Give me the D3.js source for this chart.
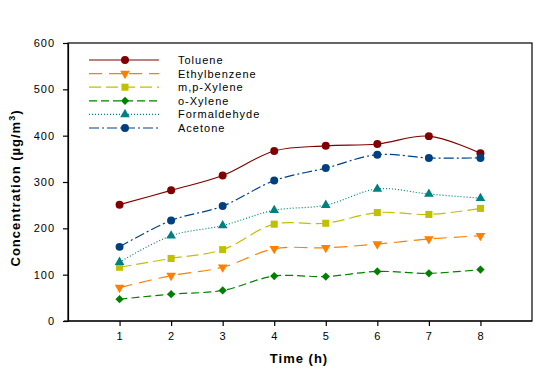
<!DOCTYPE html>
<html>
<head>
<meta charset="utf-8">
<script src="https://cdn.jsdelivr.net/npm/d3@7"></script>
<style>
  body { margin: 0; background: #fff; }
  svg text { font-family: "Liberation Sans", Arial, sans-serif; }
</style>
</head>
<body>
<svg id="chart" width="559" height="374"></svg>
<script>
// --- data ---
const hours = [1, 2, 3, 4, 5, 6, 7, 8];
const seriesNames = ["Toluene", "Ethylbenzene", "m,p-Xylene", "o-Xylene", "Formaldehyde", "Acetone"];
const toluene      = [251, 282, 314, 367, 378, 382, 399, 362];
const ethylbenzene = [72, 98, 116, 156, 158, 166, 177, 184];
const mpXylene     = [116, 135, 154, 209, 211, 234, 230, 243];
const oXylene      = [47, 58, 66, 97, 96, 107, 103, 111];
const formaldehyde = [127, 184, 206, 239, 250, 285, 274, 265];
const acetone      = [160, 217, 248, 303, 330, 359, 352, 352];
const yTicks = [0, 100, 200, 300, 400, 500, 600];

const values = [toluene, ethylbenzene, mpXylene, oXylene, formaldehyde, acetone];
const styles = [
    { color: "#800000", dash: null,        symbol: d3.symbolCircle,   size: 50, rot: 0 },
    { color: "#ff8000", dash: "13,7",      symbol: d3.symbolTriangle, size: 40, rot: 180 },
    { color: "#c0c000", dash: "12,5",      symbol: d3.symbolSquare,   size: 50, rot: 0 },
    { color: "#008000", dash: "8,4",       symbol: d3.symbolSquare,   size: 34, rot: 45 },
    { color: "#008080", dash: "1,2",       symbol: d3.symbolTriangle, size: 40, rot: 0 },
    { color: "#004080", dash: "10,3,2,3",  symbol: d3.symbolCircle,   size: 50, rot: 0 }
];

const svg = d3.select("#chart");
const plotL = 68, plotR = 532, plotT = 43, plotB = 321;

const x = d3.scaleLinear().domain([0, 9]).range([plotL, plotR]);
const y = d3.scaleLinear().domain([0, 600]).range([plotB, plotT]);

// frame
svg.append("rect")
    .attr("x", plotL).attr("y", plotT)
    .attr("width", plotR - plotL).attr("height", plotB - plotT)
    .attr("fill", "none").attr("stroke", "#000").attr("stroke-width", 1.2);

// axes
const xAxis = svg.append("g")
    .attr("transform", `translate(0,${plotB})`)
    .call(d3.axisBottom(x).tickValues(hours).tickSize(5).tickPadding(6).tickSizeOuter(0));
xAxis.select(".domain").attr("d", `M${plotL - 4},0H${plotR}`);

const yAxis = svg.append("g")
    .attr("transform", `translate(${plotL},0)`)
    .call(d3.axisLeft(y).tickValues(yTicks).tickSize(5).tickPadding(8).tickSizeOuter(0));

svg.selectAll(".tick text")
    .attr("font-size", 11)
    .attr("letter-spacing", 1)
    .attr("fill", "#000");
svg.selectAll(".domain, .tick line").attr("stroke", "#000").attr("stroke-width", 1.2);

// axis titles
svg.append("text")
    .attr("x", 299).attr("y", 363)
    .attr("text-anchor", "middle")
    .attr("font-size", 13).attr("font-weight", "bold").attr("letter-spacing", 1)
    .text("Time (h)");

const yTitle = svg.append("text")
    .attr("transform", "translate(20,188) rotate(-90)")
    .attr("text-anchor", "middle")
    .attr("font-size", 13).attr("font-weight", "bold").attr("letter-spacing", 1);
yTitle.append("tspan").text("Concentration (µg/m");
yTitle.append("tspan").attr("dy", -5).attr("font-size", 9).text("3");
yTitle.append("tspan").attr("dy", 5).text(")");

// series
const line = d3.line()
    .x((d, i) => x(hours[i]))
    .y(d => y(d))
    .curve(d3.curveCatmullRom.alpha(0.5));

values.forEach((vals, k) => {
    const st = styles[k];
    svg.append("path")
        .datum(vals)
        .attr("d", line)
        .attr("fill", "none")
        .attr("stroke", st.color)
        .attr("stroke-width", 1.2)
        .attr("stroke-dasharray", st.dash);

    svg.append("g").selectAll("path")
        .data(vals)
        .join("path")
        .attr("d", d3.symbol().type(st.symbol).size(st.size))
        .attr("transform", (d, i) => `translate(${x(hours[i])},${y(d)}) rotate(${st.rot})`)
        .attr("fill", st.color);
});

// legend
const legend = svg.append("g");
seriesNames.forEach((name, k) => {
    const st = styles[k];
    const ly = 60 + k * 13.6;
    legend.append("line")
        .attr("x1", 89).attr("x2", 159).attr("y1", ly).attr("y2", ly)
        .attr("stroke", st.color).attr("stroke-width", 1.2)
        .attr("stroke-dasharray", st.dash);
    legend.append("path")
        .attr("d", d3.symbol().type(st.symbol).size(st.size))
        .attr("transform", `translate(125,${ly}) rotate(${st.rot})`)
        .attr("fill", st.color);
    legend.append("text")
        .attr("x", 178).attr("y", ly + 4)
        .attr("font-size", 11).attr("letter-spacing", 1)
        .text(name);
});
</script>
</body>
</html>
